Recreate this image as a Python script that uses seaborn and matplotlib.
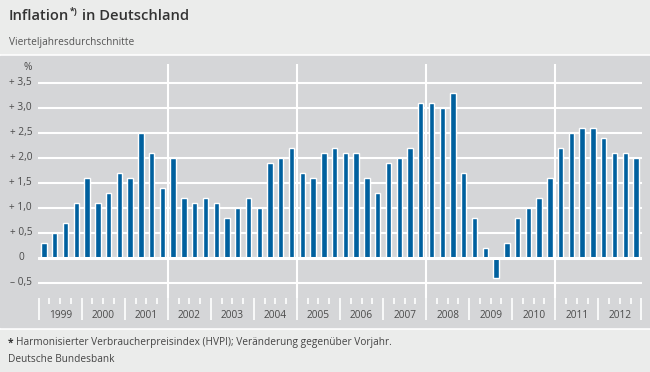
import numpy as np
import pandas as pd
import seaborn as sns
import matplotlib.pyplot as plt
from matplotlib.patches import Rectangle
from matplotlib.transforms import blended_transform_factory

# Quarterly averages, HICP change vs. previous year (%)
years = list(range(1999, 2013))
values = [
    0.3, 0.5, 0.7, 1.1,   # 1999
    1.6, 1.1, 1.3, 1.7,   # 2000
    1.6, 2.5, 2.1, 1.4,   # 2001
    2.0, 1.2, 1.1, 1.2,   # 2002
    1.1, 0.8, 1.0, 1.2,   # 2003
    1.0, 1.9, 2.0, 2.2,   # 2004
    1.7, 1.6, 2.1, 2.2,   # 2005
    2.1, 2.1, 1.6, 1.3,   # 2006
    1.9, 2.0, 2.2, 3.1,   # 2007
    3.1, 3.0, 3.3, 1.7,   # 2008
    0.8, 0.2, -0.4, 0.3,  # 2009
    0.8, 1.0, 1.2, 1.6,   # 2010
    2.2, 2.5, 2.6, 2.6,   # 2011
    2.4, 2.1, 2.1, 2.0,   # 2012
]
y_ticks = [-0.5, 0, 0.5, 1.0, 1.5, 2.0, 2.5, 3.0, 3.5]
y_labels = ["\u2013 0,5", "0", "+ 0,5", "+ 1,0", "+ 1,5", "+ 2,0", "+ 2,5", "+ 3,0", "+ 3,5"]

df = pd.DataFrame({
    "q": [f"{y}Q{k}" for y in years for k in range(1, 5)],
    "value": values,
})

BLUE = "#00609e"
LIGHT = "#ebeceb"
MID = "#d5d6d8"
TXT = "#333333"
FONT = ["Open Sans", "DejaVu Sans"]

sns.set_theme(style="white")
plt.rcParams["font.family"] = FONT

W, H = 650, 372
fig = plt.figure(figsize=(W / 100, H / 100), dpi=100, facecolor="white")


def fx(px):
    return px / W


def fy(py):
    return 1 - py / H


# background bands
for top, bot, col in [(0, 53, LIGHT), (56, 327, MID), (330, H, LIGHT)]:
    fig.patches.append(Rectangle((0, fy(bot)), 1, fy(top) - fy(bot), transform=fig.transFigure,
                                 color=col, zorder=-10))

ax = fig.add_axes([fx(38), fy(298), fx(642) - fx(38), fy(64) - fy(298)])
ax.set_facecolor("none")

sns.barplot(data=df, x="q", y="value", color=BLUE, width=0.5, saturation=1, ax=ax, zorder=3)

ax.set_xlim(-0.56, 55.56)
ax.set_ylim(-0.8, 3.88)
for s in ax.spines.values():
    s.set_visible(False)

# horizontal grid lines
for v in y_ticks:
    ax.axhline(v, color="white", lw=2.2 if v == 0 else 1.5, zorder=4 if v == 0 else 2)
# 3-year separators
for b in [11.5, 23.5, 35.5, 47.5]:
    ax.axvline(b, color="white", lw=1.5, zorder=1)

# x ticks: long at year boundaries, short between quarters
ax.set_xticks([i * 4 - 0.5 for i in range(len(years) + 1)])
ax.set_xticks([i * 4 - 0.5 + k for i in range(len(years)) for k in range(1, 4)], minor=True)
ax.set_xticklabels([])
ax.tick_params(axis="x", which="major", direction="out", length=16, width=1.2, color="white", bottom=True)
ax.tick_params(axis="x", which="minor", direction="out", length=4, width=1.2, color="white", bottom=True)
ax.set_yticks([])
ax.set_xlabel("")
ax.set_ylabel("")

# year labels
for i, y in enumerate(years):
    ax.text(i * 4 + 1.5, -0.8 - 18 / 50, str(y), ha="center", va="center",
            fontsize=7.3, color="#4a4a4a", clip_on=False)

# y labels
tr = blended_transform_factory(fig.transFigure, ax.transData)
for v, lab in zip(y_ticks, y_labels):
    x = fx(32) if v != 0 else fx(24)
    fig.text(x, v, lab, transform=tr, ha="right", va="center", fontsize=7.3, color="#4a4a4a")
fig.text(fx(32), fy(68), "%", ha="right", va="center", fontsize=7.3, color="#4a4a4a")

# title with superscript
fig.canvas.draw()
r = fig.canvas.get_renderer()
t1 = fig.text(fx(9), fy(16), "Inflation", ha="left", va="center", fontsize=10.6,
              color=TXT, weight="semibold")
bb = t1.get_window_extent(r)
t2 = fig.text(bb.x1 / W + 0.001, fy(12), "*)", ha="left", va="center", fontsize=6.2, color=TXT, weight="bold")
bb2 = t2.get_window_extent(r)
fig.text(bb2.x1 / W, fy(16), " in Deutschland", ha="left", va="center", fontsize=10.6,
         color=TXT, weight="semibold")

fig.text(fx(9), fy(42), "Vierteljahresdurchschnitte", ha="left", va="center", fontsize=7.3, color="#555555")

fig.text(fx(8), fy(343), "*", ha="left", va="center", fontsize=7.3, color=TXT, weight="bold")
fig.text(fx(16), fy(343), "Harmonisierter Verbraucherpreisindex (HVPI); Ver\u00e4nderung gegen\u00fcber Vorjahr.",
         ha="left", va="center", fontsize=7.3, color="#444444")
fig.text(fx(8), fy(360), "Deutsche Bundesbank", ha="left", va="center", fontsize=7.3, color="#444444")

fig.savefig("out.png", dpi=100, facecolor="white")
